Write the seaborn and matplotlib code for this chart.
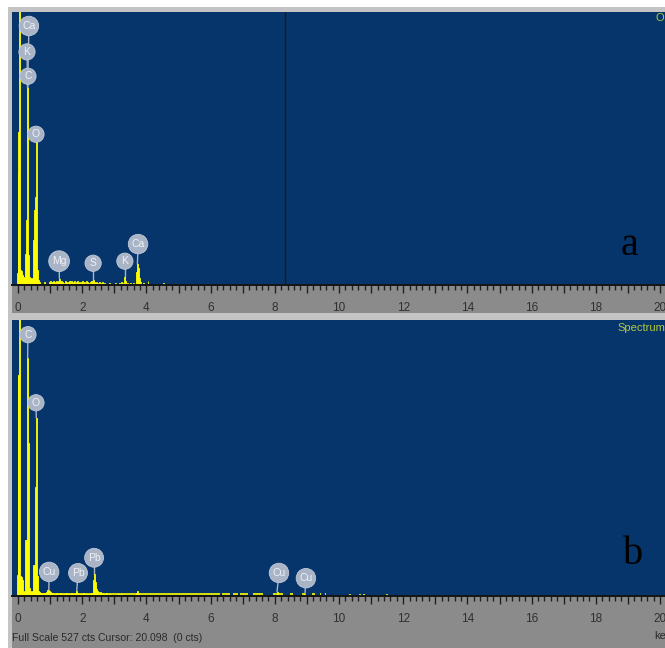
import numpy as np
import pandas as pd
import matplotlib
matplotlib.use("Agg")
import matplotlib.pyplot as plt
import seaborn as sns
from matplotlib.patches import Rectangle
from matplotlib.ticker import MultipleLocator, FuncFormatter

# ---------------- data ----------------
# spectrum a (energy keV, counts)
a_energy = [-0.03, 0.00, 0.03, 0.06, 0.09, 0.12, 0.15, 0.18, 0.21, 0.24, 0.27, 0.30, 0.33,
            0.36, 0.39, 0.42, 0.45, 0.48, 0.51, 0.54, 0.57, 0.60, 0.63, 0.66, 0.84,
            0.99, 1.02, 1.05, 1.08, 1.11, 1.14, 1.17, 1.20, 1.23, 1.26, 1.29, 1.32, 1.35,
            1.38, 1.41, 1.47, 1.50, 1.53, 1.56, 1.59, 1.62, 1.68, 1.71, 1.74, 1.77, 1.83,
            1.86, 1.89, 1.92, 1.98, 2.01, 2.04, 2.07, 2.13, 2.16, 2.19, 2.25, 2.28, 2.31,
            2.34, 2.37, 2.40, 2.46, 2.49, 2.55, 2.61, 2.64, 2.70, 2.85, 3.03, 3.15, 3.21,
            3.27, 3.33, 3.36, 3.42, 3.51, 3.60, 3.69, 3.72, 3.75, 3.78, 3.81, 3.90, 4.05,
            4.53]
a_counts = [23, 216, 295, 600, 29, 27, 19, 15, 14, 60, 125, 380, 58,
            15, 12, 14, 12, 87, 145, 170, 286, 29, 10, 6, 6,
            6, 8, 4, 6, 8, 6, 4, 8, 6, 8, 12, 6, 8,
            6, 4, 8, 6, 4, 6, 8, 6, 8, 4, 6, 8, 6,
            8, 4, 6, 6, 8, 4, 6, 8, 6, 4, 6, 8, 6,
            10, 6, 4, 6, 4, 6, 4, 6, 4, 3, 3, 4, 6,
            4, 15, 8, 4, 4, 4, 25, 40, 32, 14, 6, 4, 8,
            4]

# spectrum b (energy keV, counts)
b_energy = [-0.03, 0.00, 0.03, 0.06, 0.09, 0.12, 0.15, 0.18, 0.21, 0.24, 0.27, 0.30, 0.33,
            0.36, 0.39, 0.42, 0.45, 0.48, 0.51, 0.54, 0.57, 0.60, 0.63, 0.66, 0.69,
            0.72, 0.78, 0.84, 0.90, 0.93, 0.96, 0.99, 1.02, 1.05, 1.08, 1.14, 1.20, 1.26,
            1.32, 1.38, 1.44, 1.50, 1.56, 1.62, 1.68, 1.74, 1.80, 1.83, 1.86, 1.92, 1.98,
            2.04, 2.10, 2.16, 2.22, 2.28, 2.34, 2.37, 2.40, 2.43, 2.46, 2.49, 2.52, 2.58,
            2.64, 2.70, 2.76, 2.85, 3.12, 3.21, 3.69, 3.72, 3.75, 8.07, 8.94,
            10.32, 10.65, 10.77, 11.49]
b_counts = [40, 422, 422, 600, 38, 36, 30, 10, 8, 107, 107, 455, 292,
            15, 10, 8, 10, 59, 59, 208, 340, 38, 10, 8, 6,
            6, 4, 6, 8, 12, 12, 10, 8, 6, 6, 4, 6, 4,
            6, 4, 4, 6, 4, 4, 6, 4, 6, 10, 6, 4, 4,
            6, 4, 4, 4, 6, 30, 42, 26, 20, 14, 10, 8, 8,
            6, 4, 6, 4, 4, 4, 6, 10, 6, 8, 4,
            4, 4, 4, 4]
# low continuum segments along the baseline of spectrum b (start keV, end keV)
b_bg_start = [0.60, 6.35, 6.70, 6.92, 7.33, 7.95, 8.47, 8.84, 9.15, 9.41, 9.56]
b_bg_end = [6.29, 6.60, 6.86, 7.17, 7.64, 8.26, 8.57, 8.94, 9.25, 9.44, 9.59]

# element labels: text, energy of line, count at line
a_labels = ["Ca", "K", "C", "O", "Mg", "S", "K", "Ca"]
a_label_e = [0.30, 0.30, 0.30, 0.57, 1.29, 2.34, 3.33, 3.72]
a_label_c = [380, 380, 380, 286, 12, 10, 15, 40]
b_labels = ["C", "O", "Cu", "Pb", "Pb", "Cu", "Cu"]
b_label_e = [0.30, 0.57, 0.96, 1.83, 2.37, 8.07, 8.94]
b_label_c = [455, 340, 12, 10, 42, 8, 4]

cursor_kev = 8.32
full_scale = 527
tick_values = [0, 2, 4, 6, 8, 10, 12, 14, 16, 18, 20]

# ---------------- layout ----------------
W, H = 665, 648
BLUE = "#06356b"
GREY = "#8b8b8b"
LGREY = "#c4c4c4"
YEL = "#ffff00"
BADGE = "#a9b4c6"

# badge placement (keV, counts) in each panel
a_badge_xy = [(0.34, 500), (0.28, 450), (0.31, 403), (0.56, 291),
              (1.28, 46), (2.34, 42), (3.33, 46), (3.74, 79)]
b_badge_xy = [(0.31, 499), (0.56, 369), (0.97, 46), (1.87, 44),
              (2.37, 73), (8.13, 44), (8.97, 34)]

sns.set_theme(style="white")
plt.rcParams["font.family"] = ["Liberation Sans Narrow", "Liberation Sans", "DejaVu Sans"]

fig = plt.figure(figsize=(W / 100, H / 100), dpi=100)
fig.patch.set_facecolor("white")


def px_rect(x0, y0, x1, y1, color):
    fig.add_artist(Rectangle((x0 / W, 1 - y1 / H), (x1 - x0) / W, (y1 - y0) / H,
                             transform=fig.transFigure, facecolor=color,
                             edgecolor="none", zorder=-5))


px_rect(8, 7, W, 12, LGREY)        # top frame
px_rect(8, 7, 12, H, LGREY)        # left frame
px_rect(12, 285, W, 313, GREY)     # axis band a
px_rect(8, 313, W, 320, LGREY)     # separator
px_rect(12, 596, W, H, GREY)       # axis band b

px_per_kev = 32.1
x_left = -6 / px_per_kev
x_right = x_left + (W - 12) / px_per_kev


def make_axes(y_top, y_bot):
    ax = fig.add_axes([12 / W, 1 - y_bot / H, (W - 12) / W, (y_bot - y_top) / H])
    ax.set_facecolor(BLUE)
    return ax


def style_axes(ax):
    ax.set_xlim(x_left, x_right)
    ax.set_ylim(0, full_scale)
    for s in ["top", "left", "right"]:
        ax.spines[s].set_visible(False)
    ax.spines["bottom"].set_color("#151515")
    ax.spines["bottom"].set_linewidth(1.4)
    ax.spines["bottom"].set_zorder(6)
    ax.set_yticks([])
    ax.xaxis.set_major_locator(MultipleLocator(1))
    ax.xaxis.set_minor_locator(MultipleLocator(0.2))
    ax.xaxis.set_major_formatter(FuncFormatter(
        lambda v, p: f"{int(round(v))}" if (int(round(v)) in tick_values and abs(v - round(v)) < 1e-6) else ""))
    ax.tick_params(axis="x", which="major", direction="out", length=6, width=1,
                   color="#202020", pad=6.5, labelsize=8.5, labelcolor="#303030", bottom=True)
    ax.tick_params(axis="x", which="minor", direction="out", length=3.5, width=1,
                   color="#202020", bottom=True)
    ax.set_xlabel("")
    ax.set_ylabel("")
    ax.grid(False)


def draw_spectrum(ax, energy, counts):
    df = pd.DataFrame({"energy": energy, "counts": counts})
    sns.histplot(data=df, x="energy", weights="counts", binwidth=0.03,
                 binrange=(-0.195, 20.295), element="bars", fill=True,
                 color=YEL, alpha=1.0, linewidth=0.6, edgecolor=YEL, ax=ax, zorder=3)


def draw_badges(ax, labels, le, lc, badge_xy):
    for t, e, c, (bx, by) in zip(labels, le, lc, badge_xy):
        # stem below the spectrum so that yellow lines stay yellow
        ax.plot([bx, e], [by, c], color=BADGE, lw=1.0, zorder=2)
        ax.text(bx, by, t, ha="center", va="center", fontsize=7.5, color="#eef1f6",
                family=["Liberation Sans", "DejaVu Sans"],
                bbox=dict(boxstyle="circle,pad=0.3", fc=BADGE, ec="#c0c9d8", lw=0.6),
                zorder=5)


ax_a = make_axes(12, 285)
draw_spectrum(ax_a, a_energy, a_counts)
style_axes(ax_a)
ax_a.axvline(cursor_kev, color="#1a1a1a", lw=1.0, zorder=4)
draw_badges(ax_a, a_labels, a_label_e, a_label_c, a_badge_xy)
ax_a.text(0.945, 0.11, "a", transform=ax_a.transAxes, fontsize=29,
          family=["Liberation Serif", "DejaVu Serif"], color="black", ha="center", va="baseline")

ax_b = make_axes(320, 596)
draw_spectrum(ax_b, b_energy, b_counts)
style_axes(ax_b)
ax_b.hlines([3.0] * len(b_bg_start), b_bg_start, b_bg_end, color=YEL, lw=1.2, zorder=3)
draw_badges(ax_b, b_labels, b_label_e, b_label_c, b_badge_xy)
ax_b.text(0.951, 0.115, "b", transform=ax_b.transAxes, fontsize=29,
          family=["Liberation Serif", "DejaVu Serif"], color="black", ha="center", va="baseline")

# header / footer texts
fig.text(656 / W, 1 - 18 / H, "O", fontsize=8, color="#b4c83c", ha="left", va="center")
fig.text(617 / W, 1 - 328 / H, "Spectrum", fontsize=8, color="#b4c83c", ha="left", va="center")
fig.text(12 / W, 1 - 638 / H, "Full Scale 527 cts Cursor: 20.098  (0 cts)", fontsize=7.6,
         color="#2a2a2a", ha="left", va="center")
fig.text(654 / W, 1 - 636 / H, "keV", fontsize=8, color="#2a2a2a", ha="left", va="center")

fig.savefig("out.png", dpi=100, facecolor="white")
